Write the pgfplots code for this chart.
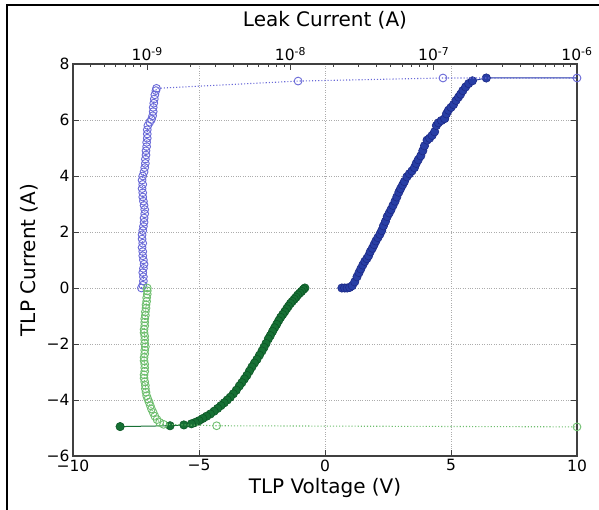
\documentclass[border=0pt]{standalone}
\usepackage{fontspec}
\setmainfont{DejaVu Sans}
\usepackage{pgfplots}
\pgfplotsset{compat=1.18}

\definecolor{bluefill}{RGB}{40,62,165}
\definecolor{blueedge}{RGB}{28,42,135}
\definecolor{blueopen}{RGB}{105,105,215}
\definecolor{greenfill}{RGB}{22,112,52}
\definecolor{greenedge}{RGB}{12,88,38}
\definecolor{greenopen}{RGB}{110,190,110}

\pgfplotsset{
  tlp/.style={
    scale only axis, width=504bp, height=392bp,
    at={(73bp,54bp)}, anchor=south west,
    ymin=-6, ymax=8,
    axis line style={black!75, line width=1.2bp},
    tick align=inside,
    major tick length=6bp, minor tick length=3bp,
    every tick/.style={black!75, line width=0.8bp},
    tick label style={font=\fontsize{15.5bp}{18bp}\selectfont},
    label style={font=\fontsize{20bp}{24bp}\selectfont},
  },
  filled/.style={line width=1bp, mark=*, mark size=4.2bp},
  hollow/.style={dotted, line width=1.1bp, mark=o, mark size=3.9bp,
    mark options={solid, line width=0.9bp}},
}

\begin{document}
\begin{tikzpicture}
\useasboundingbox (0,0) rectangle (599bp,510bp);
\draw[black, line width=2bp] (7bp,0) -- (7bp,505bp) -- (599bp,505bp);

% TLP I-V curves (bottom / left axes)
\begin{axis}[tlp,
  xmin=-10, xmax=10,
  xtick={-10,-5,0,5,10}, xticklabels={−10,−5,0,5,10},
  ytick={-6,-4,-2,0,2,4,6,8}, yticklabels={−6,−4,−2,0,2,4,6,8},
  xtick pos=left,
  grid=major, grid style={dotted, gray!65, line width=0.7bp},
  xlabel={TLP Voltage (V)}, ylabel={TLP Current (A)},
  xlabel style={at={(axis description cs:0.5,-0.0816)}, anchor=center},
  ylabel style={at={(axis description cs:-0.0873,0.5)}, anchor=center},
]
\addplot[bluefill, filled, mark options={fill=bluefill, draw=blueedge, line width=0.6bp}]
  coordinates {
  (0.67,0.00) (0.78,0.00) (0.88,0.00) (0.98,0.02) (1.08,0.08) (1.18,0.22)
  (1.27,0.40) (1.35,0.55) (1.42,0.68) (1.50,0.82) (1.58,0.95) (1.66,1.05)
  (1.73,1.15) (1.80,1.30) (1.88,1.42) (1.95,1.55) (2.02,1.68) (2.10,1.80)
  (2.18,1.92) (2.25,2.05) (2.32,2.22) (2.40,2.38) (2.47,2.55) (2.55,2.68)
  (2.62,2.80) (2.70,2.95) (2.78,3.10) (2.85,3.25) (2.93,3.42) (3.00,3.55)
  (3.08,3.68) (3.15,3.80) (3.25,3.97) (3.35,4.08) (3.45,4.18) (3.55,4.30)
  (3.62,4.45) (3.70,4.58) (3.80,4.72) (3.88,4.90) (3.95,5.08) (4.05,5.28)
  (4.15,5.35) (4.25,5.45) (4.35,5.58) (4.42,5.80) (4.50,5.90) (4.62,5.98)
  (4.75,6.05) (4.82,6.22) (4.90,6.35) (5.00,6.45) (5.10,6.55) (5.20,6.70)
  (5.30,6.82) (5.38,6.92) (5.47,7.05) (5.58,7.18) (5.70,7.30) (5.85,7.40)
  (6.40,7.50) (15.0,7.50)
  };
\addplot[greenfill, filled, mark options={fill=greenfill, draw=greenedge, line width=0.6bp}]
  coordinates {
  (-0.80,0.00) (-0.86,-0.05) (-0.93,-0.12) (-1.00,-0.18) (-1.08,-0.25)
  (-1.15,-0.33) (-1.22,-0.40) (-1.30,-0.48) (-1.37,-0.55) (-1.45,-0.65)
  (-1.52,-0.74) (-1.60,-0.85) (-1.68,-0.95) (-1.76,-1.05) (-1.84,-1.17)
  (-1.92,-1.30) (-2.00,-1.42) (-2.08,-1.55) (-2.17,-1.70) (-2.25,-1.82)
  (-2.34,-1.98) (-2.42,-2.12) (-2.50,-2.25) (-2.60,-2.40) (-2.70,-2.55)
  (-2.80,-2.68) (-2.90,-2.82) (-3.00,-2.97) (-3.10,-3.12) (-3.20,-3.25)
  (-3.30,-3.38) (-3.40,-3.50) (-3.52,-3.65) (-3.64,-3.78) (-3.76,-3.90)
  (-3.88,-4.00) (-4.00,-4.10) (-4.13,-4.20) (-4.26,-4.30) (-4.40,-4.40)
  (-4.55,-4.50) (-4.70,-4.58) (-4.85,-4.66) (-5.00,-4.74) (-5.15,-4.80)
  (-5.30,-4.85) (-5.60,-4.89) (-6.15,-4.92) (-8.13,-4.95)
  };
\end{axis}

% leakage after each pulse (top log axis)
\begin{axis}[tlp,
  xmode=log, xmin=3.03e-10, xmax=1e-6,
  axis x line*=top, axis y line=none,
  xtick={1e-9,1e-8,1e-7,1e-6},
  xticklabels={10\textsuperscript{-9},10\textsuperscript{-8},10\textsuperscript{-7},10\textsuperscript{-6}},
  minor xtick={4e-10,5e-10,6e-10,7e-10,8e-10,9e-10,
    2e-9,3e-9,4e-9,5e-9,6e-9,7e-9,8e-9,9e-9,
    2e-8,3e-8,4e-8,5e-8,6e-8,7e-8,8e-8,9e-8,
    2e-7,3e-7,4e-7,5e-7,6e-7,7e-7,8e-7,9e-7},
  xlabel={Leak Current (A)},
  xlabel style={at={(axis description cs:0.5,1.112)}, anchor=center},
]
\addplot[blueopen, hollow] coordinates {
  (9.1e-10,0.00) (9.3e-10,0.10) (9.4e-10,0.25) (9.4e-10,0.40) (9.3e-10,0.55)
  (9.4e-10,0.70) (9.5e-10,0.85) (9.4e-10,1.00) (9.3e-10,1.15) (9.3e-10,1.30)
  (9.2e-10,1.45) (9.3e-10,1.60) (9.2e-10,1.75) (9.2e-10,1.90) (9.3e-10,2.05)
  (9.4e-10,2.20) (9.5e-10,2.35) (9.5e-10,2.50) (9.6e-10,2.65) (9.6e-10,2.80)
  (9.5e-10,2.95) (9.4e-10,3.10) (9.3e-10,3.25) (9.3e-10,3.40) (9.2e-10,3.55)
  (9.3e-10,3.70) (9.2e-10,3.85) (9.3e-10,4.00) (9.5e-10,4.15) (9.6e-10,4.30)
  (9.7e-10,4.45) (9.7e-10,4.60) (9.8e-10,4.75) (9.8e-10,4.90) (9.9e-10,5.05)
  (9.9e-10,5.20) (1.0e-9,5.35) (1.0e-9,5.50) (1.0e-9,5.65) (1.01e-9,5.80)
  (1.04e-9,5.92) (1.07e-9,6.02) (1.09e-9,6.15) (1.10e-9,6.30) (1.10e-9,6.45)
  (1.11e-9,6.60) (1.12e-9,6.75) (1.13e-9,6.90) (1.15e-9,7.05) (1.16e-9,7.13)
  (1.13e-8,7.39) (1.16e-7,7.50) (1e-6,7.50)
  };
\addplot[greenopen, hollow] coordinates {
  (1.0e-9,0.00) (1.0e-9,-0.10) (1.0e-9,-0.22) (9.9e-10,-0.35) (9.9e-10,-0.48)
  (9.8e-10,-0.60) (9.8e-10,-0.72) (9.7e-10,-0.85) (9.7e-10,-0.98) (9.6e-10,-1.10)
  (9.6e-10,-1.22) (9.6e-10,-1.35) (9.5e-10,-1.48) (9.5e-10,-1.60) (9.6e-10,-1.72)
  (9.6e-10,-1.85) (9.6e-10,-1.98) (9.7e-10,-2.10) (9.6e-10,-2.22) (9.6e-10,-2.35)
  (9.5e-10,-2.48) (9.5e-10,-2.60) (9.6e-10,-2.72) (9.6e-10,-2.85) (9.6e-10,-2.98)
  (9.5e-10,-3.10) (9.5e-10,-3.22) (9.6e-10,-3.35) (9.7e-10,-3.48) (9.7e-10,-3.60)
  (9.8e-10,-3.72) (9.9e-10,-3.85) (1.01e-9,-3.97) (1.03e-9,-4.08) (1.05e-9,-4.20)
  (1.07e-9,-4.32) (1.10e-9,-4.45) (1.13e-9,-4.58) (1.17e-9,-4.70) (1.22e-9,-4.80)
  (1.30e-9,-4.87) (3.05e-9,-4.92) (1e-6,-4.96)
  };
\end{axis}
\end{tikzpicture}
\end{document}
